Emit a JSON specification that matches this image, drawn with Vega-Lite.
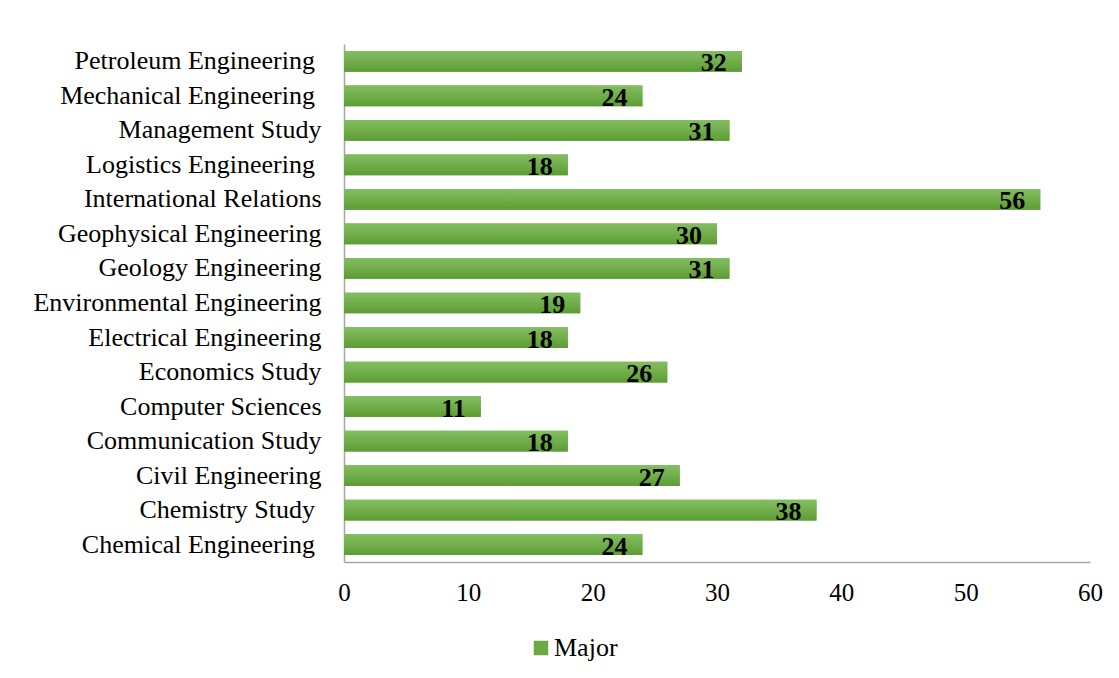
{
  "$schema": "https://vega.github.io/schema/vega-lite/v6.json",
  "autosize": "none",
  "width": 746,
  "height": 518,
  "padding": {"left": 344, "top": 44, "right": 29, "bottom": 116},
  "background": "white",
  "config": {
    "view": {"stroke": null},
    "font": "Liberation Serif"
  },
  "data": {
    "values": [
      {"major": "Petroleum Engineering", "count": 32, "series": "Major"},
      {"major": "Mechanical Engineering", "count": 24, "series": "Major"},
      {"major": "Management Study", "count": 31, "series": "Major"},
      {"major": "Logistics Engineering", "count": 18, "series": "Major"},
      {"major": "International Relations", "count": 56, "series": "Major"},
      {"major": "Geophysical Engineering", "count": 30, "series": "Major"},
      {"major": "Geology Engineering", "count": 31, "series": "Major"},
      {"major": "Environmental Engineering", "count": 19, "series": "Major"},
      {"major": "Electrical Engineering", "count": 18, "series": "Major"},
      {"major": "Economics Study", "count": 26, "series": "Major"},
      {"major": "Computer Sciences", "count": 11, "series": "Major"},
      {"major": "Communication Study", "count": 18, "series": "Major"},
      {"major": "Civil Engineering", "count": 27, "series": "Major"},
      {"major": "Chemistry Study", "count": 38, "series": "Major"},
      {"major": "Chemical Engineering", "count": 24, "series": "Major"}
    ]
  },
  "encoding": {
    "y": {
      "field": "major",
      "type": "nominal",
      "sort": null,
      "scale": {"paddingInner": 0.4, "paddingOuter": 0.2},
      "axis": {
        "title": null,
        "ticks": false,
        "domainColor": "#a6a6a6",
        "domainWidth": 1.5,
        "labelFont": "Liberation Serif",
        "labelFontSize": 26,
        "labelColor": "black",
        "labelPadding": 23,
        "labelLimit": 400,
        "labelExpr": "indexof(['Petroleum Engineering','Mechanical Engineering','Logistics Engineering','Chemistry Study','Chemical Engineering'], datum.value) >= 0 ? datum.value + '\u00a0\u200b' : datum.value"
      }
    },
    "x": {
      "field": "count",
      "type": "quantitative",
      "scale": {"domain": [0, 60], "nice": false},
      "axis": {
        "title": null,
        "values": [0, 10, 20, 30, 40, 50, 60],
        "ticks": false,
        "grid": false,
        "domainColor": "#a6a6a6",
        "domainWidth": 1.5,
        "labelFont": "Liberation Serif",
        "labelFontSize": 25,
        "labelColor": "black",
        "labelPadding": 18,
        "labelFlush": false
      }
    }
  },
  "layer": [
    {
      "mark": {"type": "bar"},
      "encoding": {
        "color": {
          "field": "series",
          "type": "nominal",
          "scale": {"range": ["#6aaa43"]},
          "legend": {
            "title": null,
            "orient": "none",
            "legendX": 184,
            "legendY": 591,
            "symbolType": "square",
            "symbolSize": 210,
            "symbolStrokeWidth": 0,
            "labelFont": "Liberation Serif",
            "labelFontSize": 26,
            "labelColor": "black",
            "labelOffset": 0
          }
        }
      }
    },
    {
      "mark": {
        "type": "bar",
        "fill": {
          "gradient": "linear",
          "x1": 0, "y1": 0, "x2": 0, "y2": 1,
          "stops": [
            {"offset": 0, "color": "#83bd62"},
            {"offset": 0.5, "color": "#71ae4b"},
            {"offset": 1, "color": "#5d9c34"}
          ]
        }
      },
      "encoding": {}
    },
    {
      "mark": {
        "type": "text",
        "align": "right",
        "baseline": "middle",
        "dx": -15,
        "dy": 2,
        "font": "Liberation Serif",
        "fontSize": 26,
        "fontWeight": "bold",
        "color": "black"
      },
      "encoding": {
        "text": {"field": "count", "type": "quantitative"}
      }
    }
  ]
}
